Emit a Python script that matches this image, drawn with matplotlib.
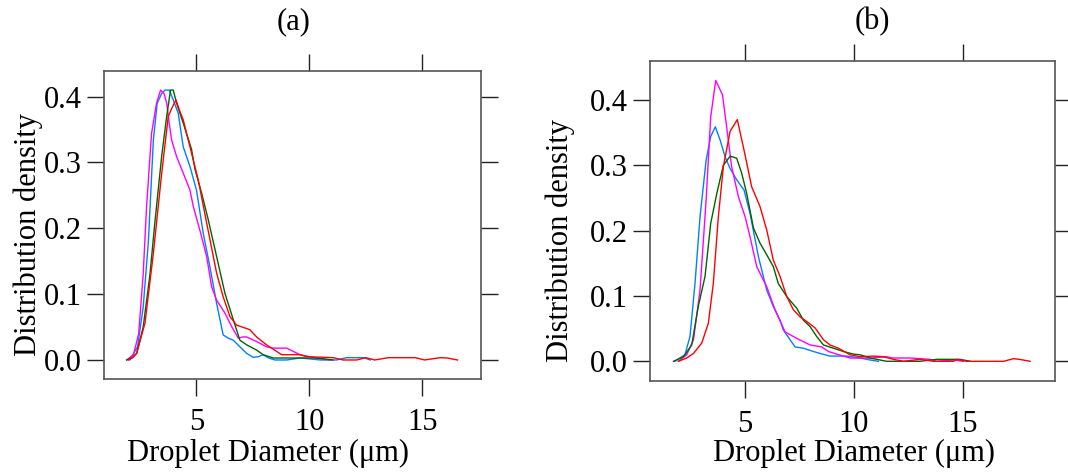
import matplotlib
matplotlib.use("Agg")
import matplotlib.pyplot as plt

plt.rcParams['font.family'] = ['Liberation Serif', 'DejaVu Serif']

# ---------------- data ----------------
# Panel (a)
a_blue_x = [2.06, 2.4, 2.65, 2.88, 3.10, 3.27, 3.47, 3.61, 3.81, 3.98, 4.2, 4.42, 4.72, 5.01, 5.31, 5.6, 5.9, 6.19, 6.42, 6.64, 6.93, 7.23, 7.52, 7.75, 7.96, 8.2, 8.48, 9.0, 9.6, 10.5, 11.2, 11.65, 12.4, 12.7]
a_blue_y = [0.0, 0.02, 0.08, 0.18, 0.334, 0.39, 0.405, 0.41, 0.41, 0.395, 0.375, 0.324, 0.294, 0.258, 0.192, 0.142, 0.086, 0.038, 0.033, 0.030, 0.020, 0.010, 0.004, 0.005, 0.008, 0.003, 0.0, 0.0, 0.003, 0.0, 0.0, 0.0035, 0.0035, 0.0]

a_mag_x = [1.92, 2.22, 2.45, 2.65, 2.80, 3.02, 3.24, 3.42, 3.57, 3.69, 3.80, 3.91, 4.13, 4.42, 4.72, 4.87, 5.16, 5.46, 5.68, 5.90, 6.27, 6.56, 6.86, 7.05, 7.23, 7.67, 8.11, 8.41, 9.0, 9.59, 10.3, 10.9]
a_mag_y = [0.0, 0.008, 0.04, 0.13, 0.233, 0.344, 0.39, 0.41, 0.405, 0.39, 0.36, 0.334, 0.309, 0.284, 0.258, 0.233, 0.197, 0.157, 0.111, 0.091, 0.071, 0.051, 0.033, 0.035, 0.035, 0.028, 0.020, 0.018, 0.018, 0.008, 0.003, 0.0]

a_grn_x = [1.92, 2.15, 2.36, 2.65, 2.95, 3.17, 3.47, 3.69, 3.86, 3.98, 4.13, 4.42, 4.79, 4.94, 5.24, 5.53, 5.9, 6.27, 6.64, 6.93, 7.23, 7.67, 7.96, 8.41, 9.0, 9.6, 10.3, 11.05]
a_grn_y = [0.0, 0.003, 0.01, 0.05, 0.13, 0.21, 0.31, 0.37, 0.41, 0.41, 0.39, 0.36, 0.32, 0.29, 0.253, 0.213, 0.157, 0.101, 0.061, 0.030, 0.023, 0.015, 0.008, 0.003, 0.003, 0.003, 0.003, 0.0]

a_red_x = [2.0, 2.2, 2.36, 2.73, 3.10, 3.47, 3.76, 3.91, 4.10, 4.28, 4.42, 4.72, 5.09, 5.46, 5.9, 6.19, 6.49, 6.78, 7.37, 7.67, 8.11, 8.78, 9.59, 9.88, 11.06, 11.5, 12.1, 12.5, 12.9, 13.5, 14.7, 15.1, 15.8, 16.1, 16.56]
a_red_y = [0.0, 0.004, 0.01, 0.056, 0.162, 0.284, 0.37, 0.382, 0.395, 0.377, 0.365, 0.324, 0.273, 0.208, 0.132, 0.096, 0.066, 0.053, 0.046, 0.035, 0.023, 0.008, 0.008, 0.005, 0.0035, 0.0, 0.0, 0.0035, 0.0, 0.0035, 0.0035, 0.0, 0.0035, 0.003, 0.0]

# Panel (b)
b_blue_x = [1.80, 2.26, 2.49, 2.72, 2.95, 3.23, 3.44, 3.65, 3.87, 4.10, 4.33, 4.63, 4.97, 5.24, 5.63, 6.01, 6.31, 6.62, 6.77, 7.08, 7.31, 7.69, 8.15, 8.46, 8.91, 9.68, 10.29, 10.75, 11.13]
b_blue_y = [0.0, 0.01, 0.038, 0.119, 0.221, 0.308, 0.344, 0.359, 0.339, 0.313, 0.295, 0.278, 0.262, 0.227, 0.160, 0.109, 0.084, 0.063, 0.048, 0.033, 0.022, 0.020, 0.015, 0.012, 0.008, 0.008, 0.005, 0.002, 0.0]

b_mag_x = [1.96, 2.34, 2.65, 2.95, 3.23, 3.44, 3.67, 3.98, 4.17, 4.40, 4.71, 5.02, 5.24, 5.55, 6.01, 6.39, 6.85, 7.39, 8.0, 8.53, 8.84, 9.22, 9.83, 10.75, 11.51, 11.8, 12.58, 13.5, 13.8, 14.57, 15.03]
b_mag_y = [0.0, 0.01, 0.033, 0.109, 0.247, 0.374, 0.43, 0.408, 0.359, 0.298, 0.252, 0.221, 0.191, 0.145, 0.114, 0.079, 0.045, 0.035, 0.025, 0.022, 0.015, 0.011, 0.005, 0.005, 0.007, 0.005, 0.005, 0.003, 0.0, 0.002, 0.0]

b_grn_x = [1.73, 2.19, 2.57, 2.87, 3.18, 3.44, 3.72, 4.02, 4.33, 4.63, 4.86, 5.09, 5.40, 5.70, 6.01, 6.31, 6.54, 6.93, 7.39, 7.69, 8.0, 8.30, 8.61, 9.07, 9.53, 9.98, 10.29, 10.75, 11.51, 13.04, 13.8, 14.88, 15.34]
b_grn_y = [0.0, 0.007, 0.025, 0.084, 0.13, 0.211, 0.257, 0.300, 0.314, 0.311, 0.288, 0.257, 0.204, 0.181, 0.163, 0.145, 0.119, 0.099, 0.081, 0.063, 0.053, 0.038, 0.025, 0.020, 0.015, 0.011, 0.010, 0.005, 0.0, 0.0, 0.003, 0.003, 0.0]

b_red_x = [1.96, 2.34, 2.65, 3.03, 3.33, 3.56, 3.79, 4.02, 4.33, 4.66, 4.97, 5.32, 5.70, 6.01, 6.31, 6.62, 6.93, 7.23, 7.54, 7.84, 8.23, 8.61, 8.91, 9.30, 9.83, 10.29, 10.9, 11.36, 11.82, 12.28, 13.04, 13.65, 14.57, 14.72, 15.18, 16.87, 17.32, 17.6, 18.09]
b_red_y = [0.0, 0.005, 0.012, 0.028, 0.058, 0.119, 0.221, 0.298, 0.352, 0.370, 0.323, 0.267, 0.237, 0.201, 0.155, 0.130, 0.099, 0.079, 0.068, 0.061, 0.051, 0.033, 0.025, 0.020, 0.010, 0.007, 0.008, 0.007, 0.003, 0.0, 0.003, 0.0, 0.0, 0.003, 0.0, 0.0, 0.004, 0.003, 0.0]

x_ticks = [5, 10, 15]
y_ticks = [0.0, 0.1, 0.2, 0.3, 0.4]
y_ticklabels = ["0.0", "0.1", "0.2", "0.3", "0.4"]
titles = ["(a)", "(b)"]
xlabel = "Droplet Diameter (\u03bcm)"
ylabel = "Distribution density"

colors = {"blue": "#0080ff", "mag": "#ff00ff", "grn": "#006400", "red": "#ff0000"}

panels = [
    dict(pos=[104/1068, 1-379/472, (481-104)/1068, (379-71)/472],
         xlim=(0.916, 17.6), ylim=(-0.0289, 0.439),
         series=[(a_blue_x, a_blue_y, "blue"), (a_mag_x, a_mag_y, "mag"),
                 (a_grn_x, a_grn_y, "grn"), (a_red_x, a_red_y, "red")],
         title_xy=(294/1068, 1-22/472), xl_xy=(268/1068, 1-453/472), yl_xy=(28/1068, 1-235/472)),
    dict(pos=[650/1068, 1-380.7/472, (1055-650)/1068, (380.7-61)/472],
         xlim=(0.656, 19.23), ylim=(-0.0297, 0.4597),
         series=[(b_blue_x, b_blue_y, "blue"), (b_mag_x, b_mag_y, "mag"),
                 (b_grn_x, b_grn_y, "grn"), (b_red_x, b_red_y, "red")],
         title_xy=(872/1068, 1-22/472), xl_xy=(854/1068, 1-453/472), yl_xy=(560/1068, 1-240/472)),
]

fig = plt.figure(figsize=(10.68, 4.72), dpi=100)
FS = 22
for i, p in enumerate(panels):
    ax = fig.add_axes(p["pos"])
    for xs, ys, c in p["series"]:
        ax.plot(xs, ys, color=colors[c], lw=1.0)
    ax.set_xlim(*p["xlim"])
    ax.set_ylim(*p["ylim"])
    ax.set_xticks(x_ticks)
    ax.set_xticklabels([str(t) for t in x_ticks])
    ax.set_yticks(y_ticks)
    ax.set_yticklabels(y_ticklabels)
    ax.tick_params(axis='both', which='major', direction='out', length=12,
                   width=1.0, color='#222222', labelsize=FS,
                   top=True, right=True, labeltop=False, labelright=False)
    ax.tick_params(axis='x', pad=9)
    ax.tick_params(axis='y', pad=4)
    for s in ax.spines.values():
        s.set_color('#555555')
        s.set_linewidth(1.2)
    fig.text(p["title_xy"][0], p["title_xy"][1], titles[i], ha='center', va='center', fontsize=FS)
    fig.text(p["xl_xy"][0], p["xl_xy"][1], xlabel, ha='center', va='center', fontsize=FS)
    fig.text(p["yl_xy"][0], p["yl_xy"][1], ylabel, ha='center', va='center', fontsize=FS, rotation=90)

fig.savefig("out.png", dpi=100)
